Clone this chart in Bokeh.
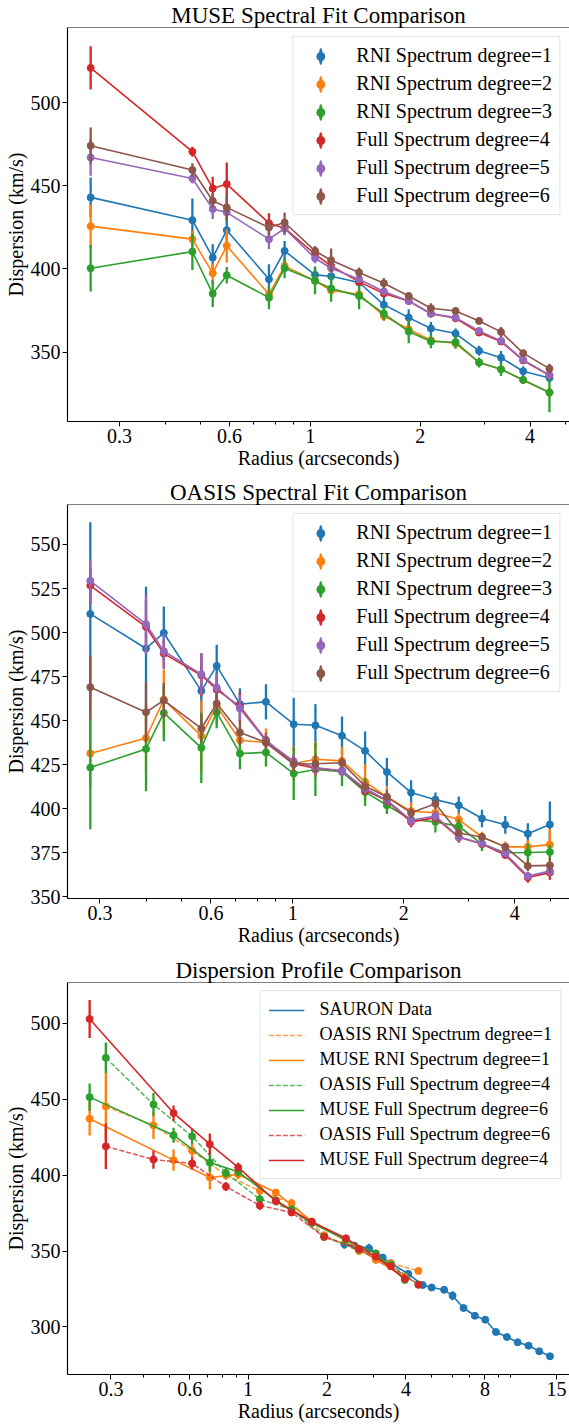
from bokeh.plotting import figure
from bokeh.models import (FixedTicker, Legend, LegendItem, Span, Range1d,
                          CustomJSTickFormatter, ColumnDataSource)
from bokeh.layouts import column
from bokeh.embed import file_html
from bokeh.resources import INLINE

FONT = "Liberation Serif"
C_BLUE, C_ORANGE, C_GREEN = "#1f77b4", "#ff7f0e", "#2ca02c"
C_RED, C_PURPLE, C_BROWN = "#d62728", "#9467bd", "#8c564b"

# ---------------- Panel 1: MUSE ----------------
muse_x = [0.25, 0.475, 0.54, 0.59, 0.77, 0.85, 1.03, 1.14, 1.36, 1.59, 1.86, 2.14, 2.50, 2.90, 3.33, 3.83, 4.52]
muse_deg1 = [443, 429.3, 406.8, 423.3, 393.8, 410.8, 396.4, 395.6, 391.8, 378.4, 370.7, 364.1, 361.1, 350.7, 346.6, 338.4, 334.4]
muse_err1 = [12, 13, 8, 8, 9, 6, 5, 5, 3, 5, 5, 4, 3, 3, 4, 3, 3]
muse_deg2 = [425.7, 417.9, 397.4, 413.9, 384.7, 401.8, 392.8, 387, 384.7, 371.7, 363.7, 357.1, 355.1, 343.7, 339.6, 333.2, 325.7]
muse_err2 = [13, 5, 6, 10, 4, 4, 3, 3, 3, 3, 3, 2, 2, 2, 2, 2, 3]
muse_deg3 = [400.4, 410.4, 385.1, 396.2, 382.7, 400.4, 392.8, 388.2, 383.7, 373.1, 362.3, 356.3, 355.9, 343.7, 339.6, 333.2, 325.7]
muse_err3 = [14, 11, 8, 5, 7, 6, 8, 8, 8, 4, 7, 4, 4, 3, 4, 2, 12]
muse_deg4 = [520.9, 470.5, 448.4, 451, 427.5, 424.5, 408.8, 401.8, 392.2, 385.2, 380.7, 373, 370.3, 361.7, 356.3, 344.9, 336]
muse_err4 = [13, 3, 7, 13, 6, 4, 3, 3, 2, 2, 2, 2, 2, 2, 2, 2, 2]
muse_deg5 = [467, 454.4, 436, 434, 417.9, 424.3, 406.4, 400.4, 393.8, 386.4, 380.7, 373.1, 370.7, 362.7, 356.7, 345.3, 336.1]
muse_err5 = [11, 3, 6, 5, 6, 4, 3, 3, 2, 2, 2, 2, 2, 2, 2, 2, 2]
muse_deg6 = [474.1, 459.5, 441, 437, 424.9, 427.9, 410.8, 405.2, 397.8, 391.4, 383.7, 376.3, 374.7, 368.7, 362.1, 349.3, 340]
muse_err6 = [11, 4, 4, 8, 5, 6, 3, 7, 3, 3, 2, 3, 2, 2, 3, 2, 3]

# ---------------- Panel 2: OASIS ----------------
oasis_x = [0.2825, 0.40, 0.447, 0.565, 0.622, 0.719, 0.846, 1.006, 1.152, 1.36, 1.571, 1.80, 2.094, 2.437, 2.82, 3.26, 3.77, 4.34, 4.98]
oasis_deg1 = [510.6, 491, 499.8, 466.9, 481.1, 459.4, 460.7, 448, 447.4, 441.4, 432.9, 420.9, 409.2, 405.2, 402, 394.5, 390.9, 385.8, 391.1]
oasis_err1 = [52, 35, 15, 21, 12, 9, 10, 15, 12, 11, 11, 8, 7, 4, 5, 5, 5, 6, 13]
oasis_deg2 = [431.4, 440.2, 462, 441.4, 458.3, 438.9, 437.6, 425.6, 428.1, 427.2, 415.3, 406.8, 398.7, 397.8, 393.9, 384, 378.4, 378.4, 379.7]
oasis_err2 = [20, 20, 17, 20, 10, 8, 8, 10, 10, 8, 10, 6, 5, 4, 4, 3, 3, 4, 9]
oasis_deg3 = [423.4, 434, 454.4, 434.6, 454.7, 431.4, 432, 420, 422.3, 421, 409.6, 402, 393.9, 392.6, 390.1, 380, 375, 375.2, 375.5]
oasis_err3 = [35, 24, 16, 20, 9, 9, 8, 15, 15, 8, 8, 5, 4, 6, 4, 4, 3, 5, 4]
oasis_deg4 = [526.7, 503.2, 488.1, 475.8, 467.7, 458, 439, 425.6, 423, 421.6, 410.6, 404.5, 392.6, 395, 383.8, 380, 373.8, 361, 363.8]
oasis_err4 = [10, 15, 8, 12, 8, 8, 4, 4, 4, 3, 3, 3, 3, 3, 3, 2, 2, 3, 4]
oasis_deg5 = [529.4, 504.8, 489.4, 476.4, 468.8, 456.9, 438.5, 427, 423.4, 421.6, 411.5, 404.9, 393.5, 395.9, 384, 380.3, 374.6, 361.8, 364.7]
oasis_err5 = [12, 17, 10, 12, 8, 8, 4, 4, 4, 3, 3, 3, 3, 3, 2, 2, 2, 2, 3]
oasis_deg6 = [469, 454.8, 461.5, 445.6, 459.8, 443.3, 437.6, 425.3, 425.6, 426.1, 412.8, 406.8, 397.7, 402.9, 386.3, 384, 378.4, 367.6, 367.9]
oasis_err6 = [18, 17, 10, 8, 6, 7, 4, 4, 5, 3, 3, 4, 3, 3, 2, 2, 2, 3, 4]

# ---------------- Panel 3: profile comparison ----------------
sauron_x = [2.33, 2.54, 2.89, 3.26, 3.50, 4.08, 4.63, 5.01, 5.59, 6.02, 6.63, 7.32, 8.02, 8.81, 9.70, 10.66, 11.73, 12.88, 14.15]
sauron_y = [354.5, 353.6, 351.8, 345.7, 342, 335, 327.6, 326, 324.5, 320.6, 312.5, 307.4, 304.8, 296.7, 293.4, 289.9, 287.7, 284, 280.7]
sauron_err = [3, 1.5, 3, 1.5, 1.5, 1.5, 1.5, 1.5, 1.5, 3, 1.5, 1.5, 1.5, 1.5, 1.5, 1.5, 1.5, 1.5, 1.5]

cmp_oasis_x = [0.287, 0.436, 0.612, 0.823, 1.109, 1.465, 1.95, 2.65, 3.5, 4.46]
cmp_oasis_rni1 = [445.3, 432.8, 416, 400, 389.7, 381.5, 360.5, 350, 342, 336.9]
cmp_oasis_rni1_err = [22, 9, 5, 3, 3, 3, 2, 2, 2, 2]
cmp_oasis_full4 = [477.3, 446.6, 425.6, 401.5, 384.2, 377.5, 359.5, 351, 341, 328]
cmp_oasis_full4_err = [10, 7.5, 5, 3, 3, 2, 2, 2, 2, 2]
cmp_oasis_full6 = [419, 410.3, 407.7, 392.5, 380, 375.4, 359.3, 351.4, 340, 327.8]
cmp_oasis_full6_err = [15, 6, 4, 3, 3, 2, 2, 2, 2, 2]

cmp_muse_x = [0.249, 0.520, 0.715, 0.917, 1.276, 1.75, 2.36, 3.07, 3.96]
cmp_muse_rni1 = [437.2, 409.9, 398.5, 400.5, 388.6, 369.5, 357, 344.2, 333]
cmp_muse_rni1_err = [11, 7, 8, 3, 2, 2, 2, 2, 2]
cmp_muse_full6 = [451.4, 426.3, 408.3, 402.2, 383.5, 368.5, 357.5, 348.5, 331]
cmp_muse_full6_err = [9, 5, 6, 3, 2, 2, 2, 2, 2]
cmp_muse_full4 = [502.9, 440.9, 420.4, 405.1, 382.8, 369.3, 358.4, 346.3, 331.7]
cmp_muse_full4_err = [12.5, 5, 7, 3, 2.5, 2, 2, 2, 2]

fit_labels = ["RNI Spectrum degree=1", "RNI Spectrum degree=2", "RNI Spectrum degree=3",
              "Full Spectrum degree=4", "Full Spectrum degree=5", "Full Spectrum degree=6"]
fit_colors = [C_BLUE, C_ORANGE, C_GREEN, C_RED, C_PURPLE, C_BROWN]

x_major_12 = [0.3, 0.6, 1, 2, 4]
x_minor_12 = [0.4, 0.5, 0.7, 0.8, 0.9, 3, 5]
x_major_3 = [0.3, 0.6, 1, 2, 4, 8, 15]
x_minor_3 = [0.4, 0.5, 0.7, 0.8, 0.9, 3, 5, 6, 7, 9, 10]


def make_fig(title, height, xr, yr, xmaj, xmin, ymaj, bottom):
    p = figure(width=569, height=height, x_axis_type="log",
               x_range=Range1d(*xr), y_range=Range1d(*yr),
               output_backend="svg", toolbar_location=None,
               min_border_left=67, min_border_right=0, min_border_top=27,
               min_border_bottom=bottom, title=title)
    p.title.text_font = FONT
    p.title.text_font_size = "23px"
    p.title.text_font_style = "normal"
    p.title.text_color = "black"
    p.title.align = "center"
    p.title.standoff = 0
    p.title.offset = 0
    p.grid.visible = False
    p.outline_line_color = None
    p.background_fill_color = "white"
    p.border_fill_color = "white"
    p.add_layout(Span(location=yr[1], dimension="width", line_color="black", line_width=1.2))

    p.xaxis.ticker = FixedTicker(ticks=xmaj, minor_ticks=xmin)
    p.xaxis.formatter = CustomJSTickFormatter(code="return String(tick);")
    p.yaxis.ticker = FixedTicker(ticks=ymaj)
    for ax in (p.xaxis[0], p.yaxis[0]):
        ax.axis_line_color = "black"
        ax.axis_line_width = 1.2
        ax.major_tick_line_color = "black"
        ax.major_tick_out = 5
        ax.major_tick_in = 0
        ax.minor_tick_out = 3
        ax.minor_tick_in = 0
        ax.major_label_text_font = FONT
        ax.major_label_text_font_size = "20px"
        ax.major_label_text_color = "black"
        ax.major_label_standoff = 2
        ax.axis_label_text_font = FONT
        ax.axis_label_text_font_size = "20px"
        ax.axis_label_text_font_style = "normal"
        ax.axis_label_text_color = "black"
        ax.axis_label_standoff = 1
    p.xaxis.minor_tick_line_color = "black"
    p.yaxis.minor_tick_line_color = None
    p.xaxis.axis_label = "Radius (arcseconds)"
    p.yaxis.axis_label = "Dispersion (km/s)"
    return p


def errseries(p, x, y, e, color, dash="solid", line_alpha=1.0):
    src = ColumnDataSource(dict(x=x, y=y, lo=[a - b for a, b in zip(y, e)], hi=[a + b for a, b in zip(y, e)]))
    p.segment(x0="x", y0="lo", x1="x", y1="hi", source=src, line_color=color, line_width=2.3)
    ln = p.line("x", "y", source=src, line_color=color, line_width=1.6, line_dash=dash, line_alpha=line_alpha)
    sc = p.scatter("x", "y", source=src, size=7, color=color)
    return ln, sc


def fit_panel(title, height, xr, yr, ymaj, xs, ys, es, bottom):
    p = make_fig(title, height, xr, yr, x_major_12, x_minor_12, ymaj, bottom)
    items = []
    for lab, col, y, e in zip(fit_labels, fit_colors, ys, es):
        ln, sc = errseries(p, xs, y, e, col)
        bar = p.ellipse(x=[0.01], y=[yr[0]], width=2.4, height=14,
                        width_units="screen", height_units="screen",
                        fill_color=col, line_color=col)
        items.append(LegendItem(label=lab, renderers=[bar, sc]))
    leg = Legend(items=items, location="top_right", margin=9, padding=7,
                 spacing=5, glyph_width=40, glyph_height=20, label_height=20,
                 label_standoff=16, label_text_font=FONT, label_text_font_size="20px",
                 label_text_color="black", border_line_color="#cccccc",
                 border_line_width=1, background_fill_alpha=0.8)
    p.add_layout(leg)
    return p


p1 = fit_panel("MUSE Spectral Fit Comparison", 477, (0.216, 5.13), (308.2, 545.2),
               [350, 400, 450, 500], muse_x,
               [muse_deg1, muse_deg2, muse_deg3, muse_deg4, muse_deg5, muse_deg6],
               [muse_err1, muse_err2, muse_err3, muse_err4, muse_err5, muse_err6], 56)

p2 = fit_panel("OASIS Spectral Fit Comparison", 478, (0.245, 5.63), (349.1, 572.7),
               [350, 375, 400, 425, 450, 475, 500, 525, 550], oasis_x,
               [oasis_deg1, oasis_deg2, oasis_deg3, oasis_deg4, oasis_deg5, oasis_deg6],
               [oasis_err1, oasis_err2, oasis_err3, oasis_err4, oasis_err5, oasis_err6], 57)

p3 = make_fig("Dispersion Profile Comparison", 469, (0.205, 16.8), (268.7, 526.9),
              x_major_3, x_minor_3, [300, 350, 400, 450, 500], 49)
items3 = []
ln, _ = errseries(p3, sauron_x, sauron_y, sauron_err, C_BLUE)
items3.append(LegendItem(label="SAURON Data", renderers=[ln]))
ln, _ = errseries(p3, cmp_oasis_x, cmp_oasis_rni1, cmp_oasis_rni1_err, C_ORANGE, "5 2", 0.75)
items3.append(LegendItem(label="OASIS RNI Spectrum degree=1", renderers=[ln]))
ln, _ = errseries(p3, cmp_muse_x, cmp_muse_rni1, cmp_muse_rni1_err, C_ORANGE)
items3.append(LegendItem(label="MUSE RNI Spectrum degree=1", renderers=[ln]))
ln, _ = errseries(p3, cmp_oasis_x, cmp_oasis_full4, cmp_oasis_full4_err, C_GREEN, "5 2", 0.75)
items3.append(LegendItem(label="OASIS Full Spectrum degree=4", renderers=[ln]))
ln, _ = errseries(p3, cmp_muse_x, cmp_muse_full6, cmp_muse_full6_err, C_GREEN)
items3.append(LegendItem(label="MUSE Full Spectrum degree=6", renderers=[ln]))
ln, _ = errseries(p3, cmp_oasis_x, cmp_oasis_full6, cmp_oasis_full6_err, C_RED, "5 2", 0.75)
items3.append(LegendItem(label="OASIS Full Spectrum degree=6", renderers=[ln]))
ln, _ = errseries(p3, cmp_muse_x, cmp_muse_full4, cmp_muse_full4_err, C_RED)
items3.append(LegendItem(label="MUSE Full Spectrum degree=4", renderers=[ln]))
leg3 = Legend(items=items3, location="top_right", margin=8, padding=8,
              spacing=4, glyph_width=36, glyph_height=20, label_height=20,
              label_standoff=15, label_text_font=FONT, label_text_font_size="18px",
              label_text_color="black", border_line_color="#cccccc",
              border_line_width=1, background_fill_alpha=0.8)
p3.add_layout(leg3)

layout = column(p1, p2, p3, spacing=0)
open("out.html", "w").write(file_html(layout, INLINE))
